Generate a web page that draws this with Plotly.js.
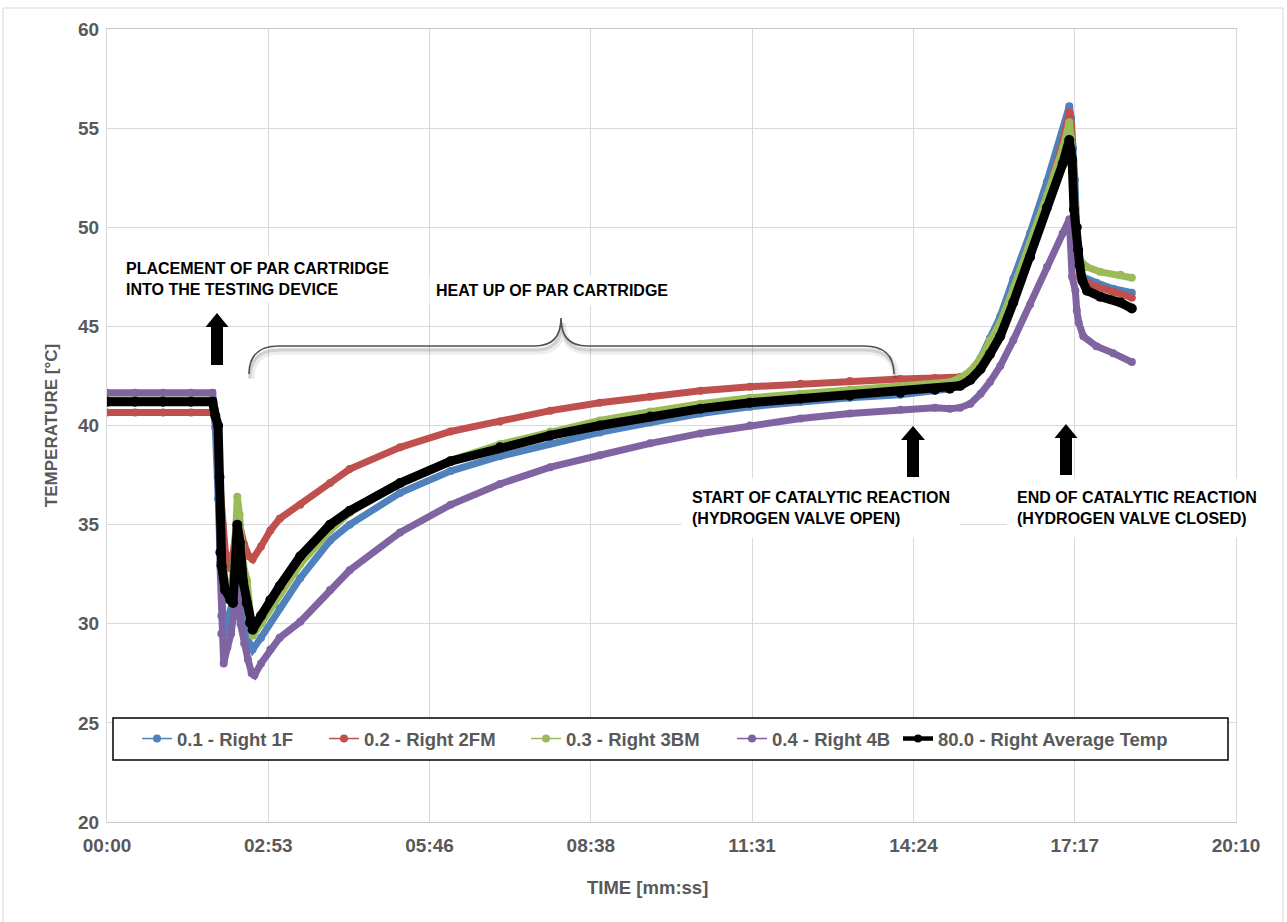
<!DOCTYPE html>
<html><head><meta charset="utf-8">
<script src="https://cdn.plot.ly/plotly-3.0.1.min.js"></script>
<style>html,body{margin:0;padding:0;background:#fff}#chart{width:1287px;height:922px}</style>
</head><body><div id="chart"></div>
<script>
// ---- tick labels (time axis, seconds) ----
const tickVals = [0, 172.8, 345.6, 518.4, 691.2, 864, 1036.8, 1209.6];
const tickText = ['00:00', '02:53', '05:46', '08:38', '11:31', '14:24', '17:17', '20:10'];
const yTicks = [20, 25, 30, 35, 40, 45, 50, 55, 60];

// ---- series names ----
const names = ['0.1 - Right 1F', '0.2 - Right 2FM', '0.3 - Right 3BM', '0.4 - Right 4B', '80.0 - Right Average Temp'];

// ---- 0.1 - Right 1F ----
const tBlue = [0,30,60,90,113,116,119,121,122.5,125,128,132,136,140,144,148,152,156,165,185,207,239,260,314,368,421,475,528,582,636,689,743,796,850,887,903,914,925,936,946,957,971,989,1007,1024,1031,1033,1035,1037,1040,1045,1060,1078,1098];
const vBlue = [41.25,41.25,41.25,41.25,41.25,39.9,36.3,33.0,30.4,29.5,29.8,30.5,31.5,33.0,30.5,29.5,29.0,28.7,29.3,30.8,32.3,34.2,35.0,36.6,37.7,38.45,39.1,39.65,40.15,40.6,40.95,41.2,41.4,41.55,41.75,41.85,42.0,42.5,43.4,44.4,45.5,47.4,49.7,52.3,54.8,56.1,55.5,54.0,52.4,48.5,47.5,47.2,46.9,46.7];

// ---- 0.2 - Right 2FM ----
const tRed = [0,30,60,90,113,116,119,121,124,127,131,135,140,143,147,152,156,165,175,185,207,239,260,314,368,421,475,528,582,636,689,743,796,850,887,903,914,925,936,946,957,971,989,1007,1024,1031,1033,1036,1040,1042,1050,1060,1078,1098];
const vRed = [40.65,40.65,40.65,40.65,40.65,40.45,39.5,37.0,35.0,33.5,32.8,33.5,35.4,34.6,34.0,33.4,33.25,33.9,34.7,35.3,36.0,37.1,37.8,38.9,39.7,40.2,40.75,41.15,41.45,41.75,41.95,42.1,42.25,42.35,42.4,42.4,42.45,42.6,43.2,44.0,45.0,46.8,49.0,51.5,54.3,55.8,55.2,52.0,49.0,47.5,47.2,47.0,46.75,46.45];

// ---- 0.3 - Right 3BM ----
const tGreen = [0,30,60,90,113,116,119,121,123,127,132,136,139.6,142,146,150,153,156,165,185,207,239,260,314,368,421,475,528,582,636,689,743,796,850,887,903,914,925,936,946,957,971,989,1007,1024,1031,1033,1035,1038,1042.5,1050,1064,1086,1098];
const vGreen = [41.3,41.3,41.3,41.3,41.3,40.8,39.0,35.0,33.5,32.0,31.5,33.0,36.4,35.5,33.0,32.2,30.5,29.4,30.0,31.5,33.0,34.7,35.6,37.1,38.25,39.05,39.7,40.25,40.7,41.1,41.4,41.6,41.8,41.95,42.1,42.2,42.4,42.75,43.4,44.3,45.2,46.9,49.2,51.6,54.0,55.3,54.5,52.0,48.85,48.35,48.0,47.75,47.6,47.45];

// ---- 0.4 - Right 4B ----
const tPurple = [0,30,60,90,113,116,119,121,122.5,125,129,133,137,140,143,147,151,155,158,165,175,185,207,239,260,314,368,421,475,528,582,636,689,743,796,850,887,903,914,925,936,946,957,971,989,1007,1024,1031,1034,1037.5,1039,1041,1046,1060,1078,1098];
const vPurple = [41.65,41.65,41.65,41.65,41.65,40.6,38.0,33.0,29.5,28.0,28.8,29.5,31.0,31.8,30.0,29.0,28.2,27.5,27.4,28.0,28.7,29.3,30.1,31.7,32.7,34.6,36.0,37.05,37.9,38.5,39.1,39.6,40.0,40.35,40.6,40.8,40.9,40.85,40.9,41.1,41.6,42.2,43.0,44.3,46.1,48.0,49.7,50.4,47.5,46.8,45.8,45.2,44.5,44.0,43.65,43.2];

// ---- 80.0 - Right Average Temp ----
const tBlack = [0,30,60,90,113,116,119,120.5,121.5,123,126.5,132,135,139.6,142.5,146,149.7,153.3,156,165,175,185,207,239,260,314,368,421,475,528,582,636,689,743,796,850,887,903,914,925,936,946,957,971,989,1007,1024,1031,1032.5,1034,1036,1039,1040.5,1042,1045,1050,1064,1086,1098];
const vBlack = [41.2,41.2,41.2,41.2,41.2,40.5,40.0,37.4,33.6,32.9,31.7,31.2,31.05,35.0,34.1,32.1,31.05,30.05,29.7,30.4,31.2,31.9,33.4,35.0,35.7,37.1,38.2,38.9,39.5,40.0,40.45,40.85,41.15,41.35,41.5,41.65,41.8,41.85,42.0,42.3,42.85,43.6,44.5,46.2,48.5,51.0,53.2,54.4,53.9,53.4,50.9,50.0,48.85,48.1,47.3,46.8,46.5,46.2,45.9];

// ---- styles ----
const colors = ['#4F81BD', '#C0504D', '#9BBB59', '#8064A2', '#000000'];
const xs = [tBlue, tRed, tGreen, tPurple, tBlack];
const ys = [vBlue, vRed, vGreen, vPurple, vBlack];

const W = 1287, H = 922;
const M = {l: 107, r: 51, t: 29, b: 100};
const PW = W - M.l - M.r, PH = H - M.t - M.b;
const XMAX = 1209.6, YMIN = 20, YMAX = 60;
const px2x = p => (p - M.l) / PW * XMAX;
const px2y = p => YMAX - (p - M.t) / PH * (YMAX - YMIN);
const px2px = p => (p - M.l) / PW;
const py2py = p => (H - M.b - p) / PH;

const FONT = 'Liberation Sans, Arial, sans-serif';
const legendIds = ['legend', 'legend2', 'legend3', 'legend4', 'legend5'];
const legendLeft = [137, 324, 526, 732, 898];

const traces = [];
for (let i = 0; i < 5; i++) {
  const isAvg = i === 4;
  traces.push({
    type: 'scatter', mode: 'lines+markers', x: xs[i], y: ys[i], name: names[i],
    showlegend: false, hoverinfo: 'skip',
    line: {color: colors[i], width: isAvg ? 9 : 7, shape: 'linear'},
    marker: {color: colors[i], size: isAvg ? 10 : 8}
  });
}
for (let i = 0; i < 5; i++) {
  const isAvg = i === 4;
  traces.push({
    type: 'scatter', mode: 'lines+markers', x: [null], y: [null], name: names[i],
    showlegend: true, legend: legendIds[i],
    line: {color: colors[i], width: isAvg ? 4.5 : 1.5},
    marker: {color: colors[i], size: 8}
  });
}

function arrowPath(cx, ty, by, hw, hh, sw) {
  const pts = [[cx, ty], [cx + hw, ty + hh], [cx + sw, ty + hh], [cx + sw, by], [cx - sw, by], [cx - sw, ty + hh], [cx - hw, ty + hh]];
  return 'M' + pts.map(p => px2x(p[0]) + ',' + px2y(p[1])).join(' L') + ' Z';
}
function bracePath(dx, dy) {
  const P = (x, y) => px2x(x + dx) + ',' + px2y(y + dy);
  return 'M' + P(249, 374) + ' Q' + P(249, 346) + ' ' + P(279, 346) +
    ' L' + P(535, 346) + ' Q' + P(561, 346) + ' ' + P(561, 318) +
    ' Q' + P(561, 346) + ' ' + P(587, 346) + ' L' + P(864, 346) +
    ' Q' + P(894, 346) + ' ' + P(894, 374);
}

const shapes = [
  {type: 'rect', xref: 'paper', yref: 'paper', x0: px2px(3), x1: px2px(1283), y0: py2py(930), y1: py2py(8),
   line: {color: '#d9d9d9', width: 1}, layer: 'below'},
  {type: 'path', path: arrowPath(217, 313, 365, 11.5, 14, 6), fillcolor: '#000', line: {width: 0}},
  {type: 'path', path: arrowPath(913, 426, 477, 12, 14, 6), fillcolor: '#000', line: {width: 0}},
  {type: 'path', path: arrowPath(1066, 424, 475, 11.5, 14, 6), fillcolor: '#000', line: {width: 0}},
  {type: 'path', path: bracePath(2, 5), line: {color: 'rgba(0,0,0,0.07)', width: 7}},
  {type: 'path', path: bracePath(1, 4), line: {color: 'rgba(0,0,0,0.12)', width: 3}},
  {type: 'path', path: bracePath(0, 0), line: {color: '#505050', width: 1.6}},
  {type: 'rect', xref: 'paper', yref: 'paper', x0: px2px(113), x1: px2px(1228), y0: py2py(760), y1: py2py(718),
   line: {color: '#000', width: 1.5}, fillcolor: '#fff', layer: 'above'}
];

const annFont = {family: FONT, size: 16, color: '#000', weight: 'bold'};
const annotations = [
  {x: px2x(121), y: px2y(279), xanchor: 'left', yanchor: 'middle', align: 'left', showarrow: false,
   text: 'PLACEMENT OF PAR CARTRIDGE<br>INTO THE TESTING DEVICE', font: annFont, bgcolor: '#fff', borderpad: 4},
  {x: px2x(552), y: px2y(290), xanchor: 'center', yanchor: 'middle', showarrow: false,
   text: 'HEAT UP OF PAR CARTRIDGE', font: annFont, bgcolor: '#fff', borderpad: 6},
  {x: px2x(681), y: px2y(508), xanchor: 'left', yanchor: 'middle', align: 'left', showarrow: false,
   text: 'START OF CATALYTIC REACTION<br>(HYDROGEN VALVE OPEN)', font: annFont, bgcolor: '#fff', borderpad: 10},
  {x: px2x(1006), y: px2y(508), xanchor: 'left', yanchor: 'middle', align: 'left', showarrow: false,
   text: 'END OF CATALYTIC REACTION<br>(HYDROGEN VALVE CLOSED)', font: annFont, bgcolor: '#fff', borderpad: 10},
  {xref: 'paper', yref: 'paper', x: px2px(647), y: py2py(888), xanchor: 'center', yanchor: 'middle', showarrow: false,
   text: 'TIME [mm:ss]', font: {family: FONT, size: 18.5, color: '#595959', weight: 'bold'}}
];

const tickFont = {family: FONT, size: 19, color: '#595959', weight: 'bold'};
const legFont = {family: FONT, size: 18.5, color: '#595959', weight: 'bold'};
const layout = {
  width: W, height: H,
  margin: M,
  paper_bgcolor: '#fff', plot_bgcolor: '#fff',
  showlegend: true,
  xaxis: {range: [0, XMAX], tickvals: tickVals, ticktext: tickText, showgrid: true, gridcolor: '#d9d9d9',
    zeroline: false, showline: true, linecolor: '#c8c8c8', linewidth: 1, mirror: true, ticks: '',
    tickfont: tickFont, ticklabelstandoff: 6},
  yaxis: {range: [YMIN, YMAX], tickvals: yTicks, showgrid: true, gridcolor: '#d9d9d9',
    zeroline: false, showline: true, linecolor: '#d9d9d9', linewidth: 1, mirror: true, ticks: '',
    tickfont: tickFont, ticklabelstandoff: 3,
    title: {text: 'TEMPERATURE [°C]', font: {family: FONT, size: 17, color: '#595959', weight: 'bold'}, standoff: 16}},
  shapes: shapes,
  annotations: annotations
};
legendIds.forEach((id, i) => {
  layout[id] = {orientation: 'h', x: px2px(legendLeft[i]), xanchor: 'left', y: py2py(739), yanchor: 'middle',
    bgcolor: 'rgba(0,0,0,0)', borderwidth: 0, font: legFont};
});

Plotly.newPlot('chart', traces, layout, {displayModeBar: false, staticPlot: true});
</script></body></html>
